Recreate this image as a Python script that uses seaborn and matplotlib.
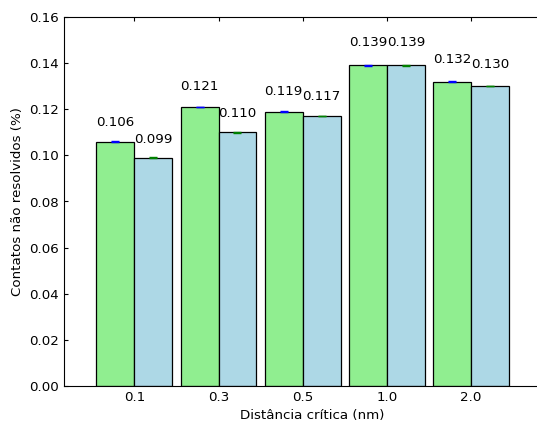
import matplotlib
matplotlib.use("Agg")
import matplotlib.pyplot as plt
import seaborn as sns
import pandas as pd
import numpy as np

distancias = ["0.1", "0.3", "0.5", "1.0", "2.0"]
serie_a = [0.106, 0.121, 0.119, 0.139, 0.132]
serie_b = [0.099, 0.110, 0.117, 0.139, 0.130]
series = ["A", "B"]
cores = ["#90EE90", "#ADD8E6"]
cores_erro = ["blue", "green"]

sns.set_style("white")
plt.rcParams.update({
    "font.family": ["DejaVu Sans"],
    "font.size": 9.6,
    "xtick.direction": "in",
    "ytick.direction": "in",
    "xtick.top": True,
    "ytick.right": True,
    "xtick.bottom": True,
    "ytick.left": True,
    "xtick.major.size": 3.2,
    "ytick.major.size": 3.2,
    "xtick.major.width": 0.8,
    "ytick.major.width": 0.8,
    "xtick.major.pad": 3.5,
    "ytick.major.pad": 3.5,
    "axes.edgecolor": "black",
    "axes.linewidth": 0.8,
    "xtick.color": "black",
    "ytick.color": "black",
    "text.color": "black",
    "axes.labelcolor": "black",
})

df = pd.DataFrame({
    "dist": distancias * 2,
    "valor": serie_a + serie_b,
    "serie": [series[0]] * len(distancias) + [series[1]] * len(distancias),
})

fig = plt.figure(figsize=(5.37, 4.23), dpi=100)
W, H = 537, 423
ax = fig.add_axes([64 / W, (H - 386) / H, (560 - 64) / W, (386 - 17) / H])

sns.barplot(data=df, x="dist", y="valor", hue="serie", order=distancias,
            hue_order=series, palette=cores, saturation=1, width=0.9,
            edgecolor="black", linewidth=0.9, errorbar=None, legend=False, ax=ax)

px_per_unit = 84.2
ax.set_xlim(-(134.3 - 64) / px_per_unit, (560 - 134.3) / px_per_unit)
ax.set_ylim(0, 0.16)
ax.set_yticks(np.arange(0, 0.161, 0.02))
ax.set_yticklabels([f"{v:.2f}" for v in np.arange(0, 0.161, 0.02)])
ax.set_xlabel("Distância crítica (nm)")
ax.set_ylabel("Contatos não resolvidos (%)")

bar_conts = list(ax.containers)
for k, cont in enumerate(bar_conts):
    for bar in cont:
        h = bar.get_height()
        xc = bar.get_x() + bar.get_width() / 2
        ax.errorbar(xc, h, yerr=0.0001, color=cores_erro[k], capsize=3,
                    capthick=1, elinewidth=1, fmt="none", zorder=5)
        ax.text(xc, 1.05 * h, f"{h:.3f}", ha="center", va="bottom")

for s in ax.spines.values():
    s.set_visible(True)

fig.savefig("out.png", dpi=100)
